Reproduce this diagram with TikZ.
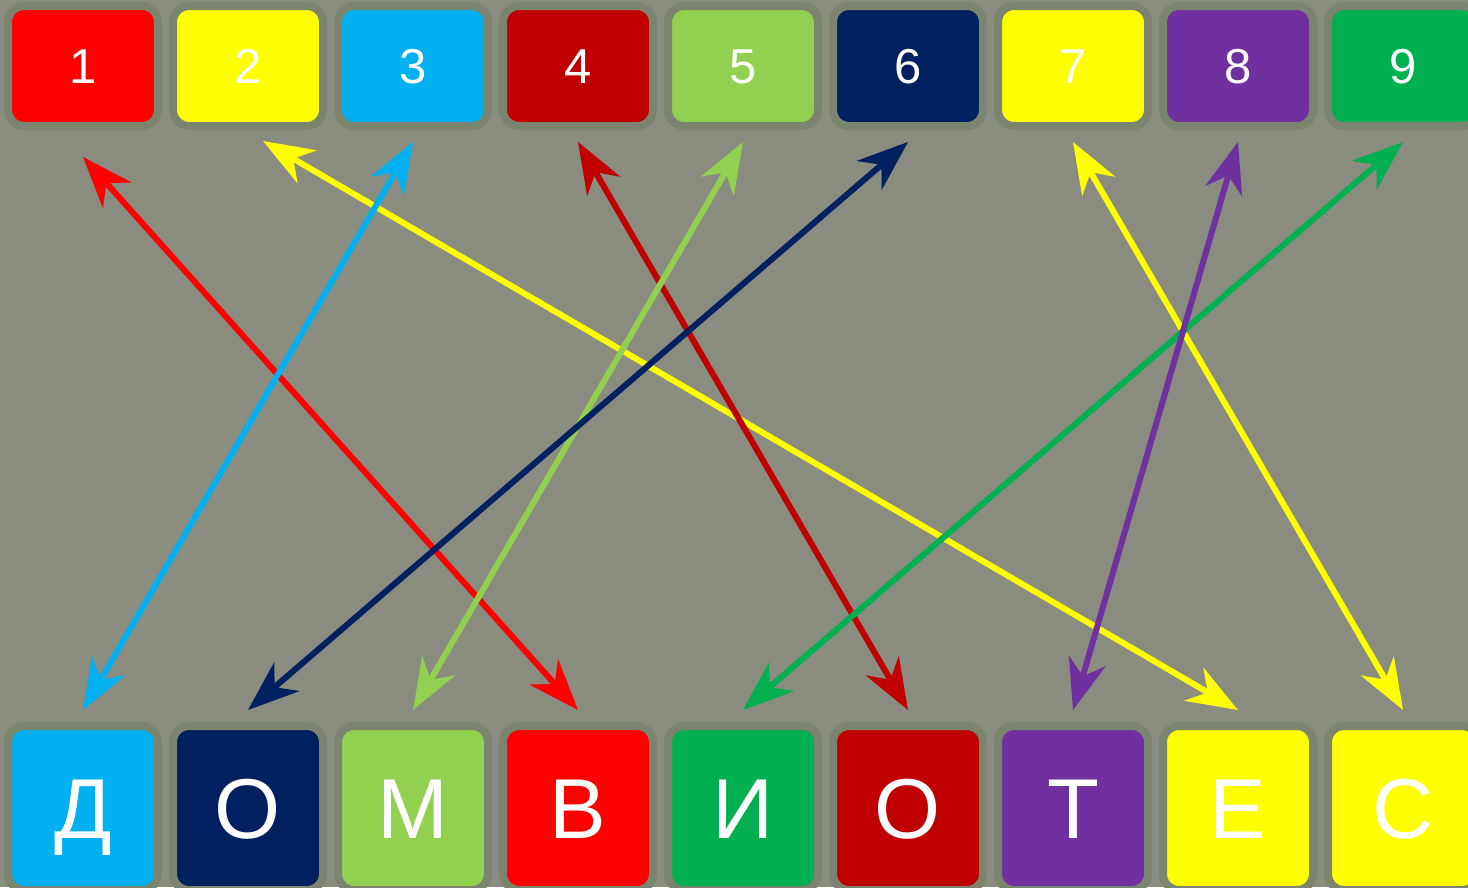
\documentclass[tikz,border=0pt]{standalone}
\usepackage{fontspec}
\setmainfont{Liberation Sans}
\usetikzlibrary{arrows.meta}
\definecolor{bg}{HTML}{898C7F}
\definecolor{rim}{HTML}{7B846E}
\definecolor{cRed}{HTML}{FF0000}
\definecolor{cYel}{HTML}{FFFF00}
\definecolor{cCyan}{HTML}{00B0F0}
\definecolor{cDRed}{HTML}{C00000}
\definecolor{cLGreen}{HTML}{92D050}
\definecolor{cNavy}{HTML}{002060}
\definecolor{cPurple}{HTML}{7030A0}
\definecolor{cGreen}{HTML}{00B050}
\begin{document}
\begin{tikzpicture}[x=1pt,y=-1pt,
  tile/.style={draw=rim, line width=8pt, rounded corners=16pt, minimum width=150pt, inner sep=0pt, text=white, text depth=0pt},
  toptile/.style={tile, minimum height=120pt, text height=35pt, font=\fontsize{49}{50}\selectfont},
  bottile/.style={tile, minimum height=164pt, text height=61pt, font=\fontsize{85}{90}\selectfont},
  tipA/.tip={Stealth[length=51pt,width=38pt,inset=16pt]},
  arr/.style={line width=6pt, tipA-tipA}]
\useasboundingbox (0,0) rectangle (1468,887);
\clip (0,0) rectangle (1468,887);
\fill[bg] (0,0) rectangle (1468,887);
% top row
\node[toptile, fill=cRed]    (t1) at (83,66)   {1};
\node[toptile, fill=cYel]    (t2) at (248,66)  {2};
\node[toptile, fill=cCyan]   (t3) at (413,66)  {3};
\node[toptile, fill=cDRed]   (t4) at (578,66)  {4};
\node[toptile, fill=cLGreen] (t5) at (743,66)  {5};
\node[toptile, fill=cNavy]   (t6) at (908,66)  {6};
\node[toptile, fill=cYel]    (t7) at (1073,66) {7};
\node[toptile, fill=cPurple] (t8) at (1238,66) {8};
\node[toptile, fill=cGreen]  (t9) at (1403,66) {9};
% bottom row
\node[bottile, fill=cCyan]   (b1) at (83,808)   {Д};
\node[bottile, fill=cNavy]   (b2) at (248,808)  {О};
\node[bottile, fill=cLGreen] (b3) at (413,808)  {М};
\node[bottile, fill=cRed]    (b4) at (578,808)  {В};
\node[bottile, fill=cGreen]  (b5) at (743,808)  {И};
\node[bottile, fill=cDRed]   (b6) at (908,808)  {О};
\node[bottile, fill=cPurple] (b7) at (1073,808) {Т};
\node[bottile, fill=cYel]    (b8) at (1238,808) {Е};
\node[bottile, fill=cYel]    (b9) at (1403,808) {С};
% connectors
\draw[arr, cRed]    ([yshift=-27pt]t1.south) -- ([yshift=12pt]b4.north);
\draw[arr, cYel]    ([xshift=15pt,yshift=-11pt]t2.south) -- ([yshift=12pt]b8.north);
\draw[arr, cCyan]   ([yshift=-12pt]t3.south) -- ([yshift=12pt]b1.north);
\draw[arr, cDRed]   ([yshift=-12pt]t4.south) -- ([yshift=12pt]b6.north);
\draw[arr, cLGreen] ([yshift=-12pt]t5.south) -- ([yshift=12pt]b3.north);
\draw[arr, cNavy]   ([yshift=-12pt]t6.south) -- ([yshift=12pt]b2.north);
\draw[arr, cYel]    ([yshift=-12pt]t7.south) -- ([yshift=12pt]b9.north);
\draw[arr, cGreen]  ([yshift=-12pt]t9.south) -- ([yshift=12pt]b5.north);
\draw[arr, cPurple] ([yshift=-12pt]t8.south) -- ([yshift=12pt]b7.north);
\end{tikzpicture}
\end{document}
